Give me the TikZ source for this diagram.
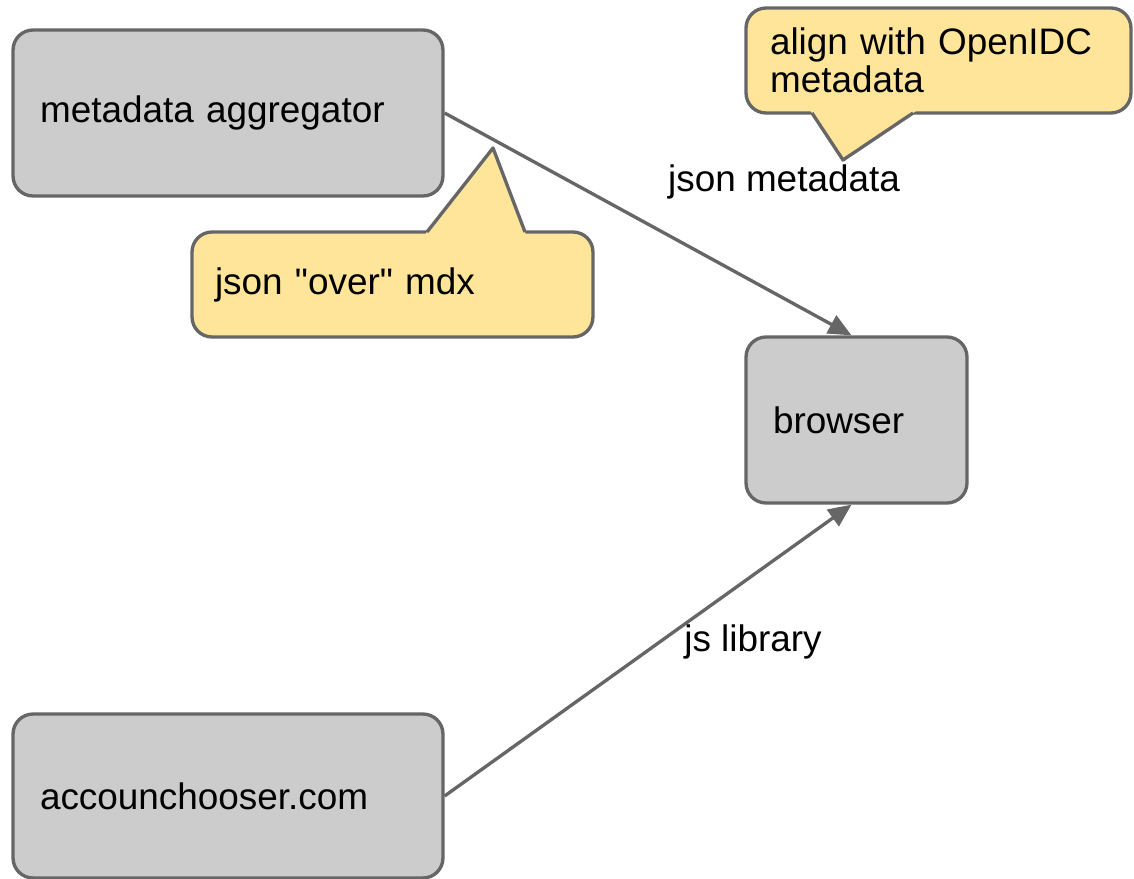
\documentclass[tikz,border=0pt]{standalone}
\usepackage{fontspec}
\setmainfont{Liberation Sans}[Ligatures=TeXOff]
\usetikzlibrary{arrows.meta}
\definecolor{boxgray}{HTML}{CCCCCC}
\definecolor{edgegray}{HTML}{666666}
\definecolor{noteyellow}{HTML}{FFE599}
\begin{document}
\begin{tikzpicture}[x=0.02cm,y=-0.02cm]
	\tikzstyle{box} = [draw=edgegray, fill=boxgray, line width=1.9pt, rounded corners=0.4cm, minimum height=3.32cm, inner xsep=0.54cm, align=left, font=\fontsize{21}{25}\selectfont]
	\tikzstyle{note} = [draw=edgegray, fill=noteyellow, line width=1.9pt, rounded corners=0.4cm, minimum height=2.1cm, align=left, font=\fontsize{21}{21.6}\selectfont]
	\tikzstyle{pointer} = [draw=edgegray, line width=1.9pt, line join=round]
	\tikzstyle{edgetext} = [inner sep=0, font=\fontsize{21}{25}\selectfont]
	\tikzstyle{flow} = [-{Triangle[length=0.46cm,width=0.4cm]}, draw=edgegray, line width=1.9pt]

	\useasboundingbox (0,0) rectangle (1134,879);

	\node [box, text width=7.52cm] (aggregator) at (228,113) {metadata aggregator};
	\node [box, text width=3.34cm] (browser) at (856.5,420) {browser};
	\node [box, text width=7.52cm, minimum height=3.28cm] (chooser) at (228,796) {accounchooser.com};

	% callouts
	\node [note, inner xsep=0.48cm, text width=6.74cm] (openidcnote) at (938.5,60.5) {align with OpenIDC\\metadata};
	\fill [noteyellow] (810,110) -- (843,160) -- (917.5,110) -- cycle;
	\draw [pointer] (812,113) -- (843,160) -- (913,113);

	\node [note, inner xsep=0.46cm, text width=7.1cm] (mdxnote) at (392.5,284.5) {json "over" mdx};
	\fill [noteyellow] (424.6,235) -- (493,148) -- (526.1,235) -- cycle;
	\draw [pointer] (427,232) -- (493,148) -- (525,232);

	\draw [flow] (aggregator.east) -- ([xshift=-0.1cm]browser.north);
	\draw [flow] (chooser.east) -- ([xshift=-0.1cm]browser.south);
	\node [edgetext] (jsonlabel) at (784,182) {json metadata};
	\node [edgetext] (jslabel) at (753,642) {js library};
\end{tikzpicture}
\end{document}
